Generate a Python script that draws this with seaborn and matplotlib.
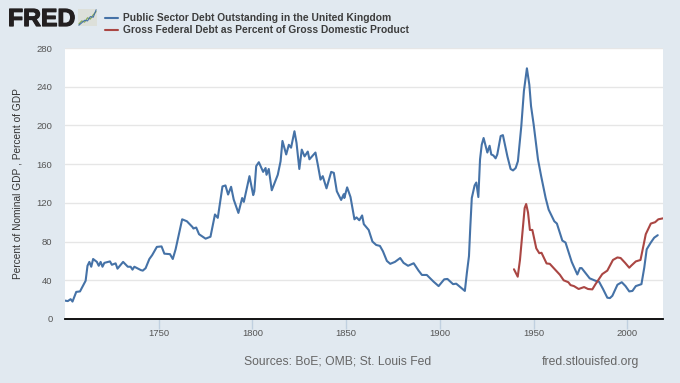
import pandas as pd
import seaborn as sns
import matplotlib.pyplot as plt
import matplotlib.patheffects as pe
from matplotlib.lines import Line2D

# values (year, percent of GDP)
uk_years = [1700, 1701.5, 1703, 1704, 1706, 1708, 1711, 1712, 1713, 1714, 1715, 1717, 1718, 1719, 1720, 1721,
            1724, 1725, 1727, 1728, 1731, 1733.5, 1735, 1736, 1737, 1740.5, 1741.5, 1743, 1745, 1746.5, 1749,
            1751.5, 1753, 1756, 1757.5, 1759, 1762.5, 1765, 1768, 1768.5, 1770, 1771.5, 1775, 1777.6, 1780,
            1781.5, 1784, 1785.6, 1787, 1788.6, 1790, 1792.5, 1794.5, 1795.4, 1798.4, 1800.4, 1801, 1802,
            1803.4, 1805.7, 1807, 1807.5, 1808.7, 1810.3, 1813.5, 1815, 1816, 1818, 1819.4, 1820.6, 1822.4,
            1823.5, 1825, 1826.3, 1827.8, 1829.5, 1830.4, 1833.6, 1835, 1836.3, 1837.5, 1839.5, 1842, 1843.4,
            1845, 1847.3, 1848.7, 1849, 1850.5, 1852.3, 1854.4, 1855.5, 1857, 1858.5, 1859.4, 1862, 1864, 1866,
            1868, 1869.6, 1871.7, 1873.5, 1876, 1878.8, 1880.6, 1883, 1886, 1888.6, 1890.4, 1893, 1896.6,
            1899.3, 1902.3, 1904, 1907, 1908.7, 1913.3, 1914.4, 1915.5, 1916.2, 1917, 1918.5, 1919.4, 1920.5,
            1921.4, 1922.3, 1923.3, 1925.3, 1926.5, 1927.4, 1928.5, 1929.7, 1930.6, 1932.4, 1933.6, 1936,
            1937.7, 1939, 1940.4, 1941.6, 1943.4, 1944.8, 1946.4, 1947.7, 1948.6, 1950, 1952.3, 1954, 1956.4,
            1958, 1961, 1962.4, 1965.3, 1967, 1970.3, 1973.3, 1974.7, 1975.6, 1979.9, 1983, 1984.9, 1987,
            1989.3, 1990.7, 1992, 1994.7, 1997, 1999, 2001, 2002.7, 2004.5, 2007.5, 2009, 2010.3, 2012.5,
            2014.3, 2016.2]
uk_debt = [19, 18.5, 20.5, 18, 28, 28.5, 39.5, 55, 59, 54, 62, 59, 55, 59, 54, 58,
           59.5, 56, 57.5, 52, 59, 54, 54, 51, 54, 50.5, 50, 52.5, 62, 66, 74.5,
           75, 67.5, 67, 62, 72, 103, 101, 95, 93.5, 94.5, 87.6, 83, 85, 108,
           104.5, 137, 138, 128.6, 136.6, 123.4, 109.6, 125, 121, 147.6, 128, 132, 158,
           162, 152, 156, 149, 155, 133, 149, 163, 184, 170, 180, 177, 194,
           182, 155, 175, 168, 173, 165, 172, 158, 144, 147.6, 135, 152, 151,
           132, 123, 129, 125, 136, 126, 103, 105, 102, 107, 98, 92, 80, 76.5,
           75.5, 70, 60, 57, 59, 63, 58, 55, 57.6, 50, 45.5, 45.5, 38.6,
           34, 41, 41.4, 36, 36.5, 29, 48, 65, 95, 125, 138, 141, 126,
           165, 180, 187, 172, 179, 170, 169, 166, 170, 189, 190, 168,
           155, 153.5, 156, 163, 199, 235.5, 259, 242, 220, 201, 165, 147.6, 125,
           113, 101, 98.6, 81, 79, 59, 46, 52.6, 52.6, 42, 39.5, 38.5, 31,
           22, 21.6, 24, 35.4, 38, 34, 28.5, 29, 34, 36, 53, 72, 79,
           84, 86.6]

us_years = [1939.5, 1941.5, 1942.7, 1945.2, 1946, 1947, 1948, 1949.3, 1951.4, 1953, 1954.2, 1956.9, 1958.6,
            1961.7, 1964, 1966, 1968.5, 1969.7, 1971.5, 1974, 1976.9, 1979, 1981.3, 1983, 1986.6, 1989.3,
            1992.3, 1994.7, 1996.4, 1998.8, 2001, 2002, 2004.5, 2007, 2008.7, 2009.8, 2012.5, 2014.8, 2016.5,
            2019]
us_debt = [51.4, 43.7, 61, 114.6, 118.8, 110, 92, 92, 73, 68, 68.4, 57.4, 57,
           50.5, 45.7, 40, 38, 35, 34, 31, 33, 31, 30.6, 36, 46.4, 50,
           61, 63.6, 63, 58, 53, 55, 59.5, 61, 77, 87.6, 98.6, 100, 103,
           104]

uk_label = "Public Sector Debt Outstanding in the United Kingdom"
us_label = "Gross Federal Debt as Percent of Gross Domestic Product"
y_ticks = [0, 40, 80, 120, 160, 200, 240, 280]
x_ticks = [1750, 1800, 1850, 1900, 1950, 2000]

# small chart in the logo
logo_x = [0, 1, 2, 3, 4, 5, 6]
logo_green = [1, 2, 1.6, 3, 2.6, 4, 5]
logo_blue = [0.6, 1.4, 2.2, 2, 3.4, 3.2, 5.6]

bg = "#E1E9F0"
blue = "#4572A7"
red = "#AA4643"
label_col = "#555555"

sns.set_theme(style="white")
plt.rcParams['font.family'] = ['Liberation Sans', 'DejaVu Sans']

df = pd.concat([
    pd.DataFrame({"year": uk_years, "value": uk_debt, "series": uk_label}),
    pd.DataFrame({"year": us_years, "value": us_debt, "series": us_label}),
])

fig = plt.figure(figsize=(6.8, 3.83), dpi=100, facecolor=bg)
ax = fig.add_axes([65 / 680, 1 - 319 / 383, 598 / 680, 271 / 383])
sns.lineplot(data=df, x="year", y="value", hue="series", palette=[blue, red], errorbar=None,
             estimator=None, sort=False, linewidth=1.5, legend=False, ax=ax, zorder=3)

ax.set_xlim(1700, 2019)
ax.set_ylim(0, 280)
ax.set_xticks(x_ticks)
ax.set_yticks(y_ticks)
ax.set_facecolor("white")
ax.grid(axis="y", color="#E6E6E6", linewidth=1)
ax.set_axisbelow(True)
ax.set_xlabel("")
ax.set_ylabel("Percent of Nominal GDP , Percent of GDP", fontsize=7.3, color="#333333")
ax.yaxis.set_label_coords(-42 / 598, 0.5)
ax.tick_params(axis="x", length=7, width=1, color="#C0D0E0", labelsize=6.8, labelcolor=label_col, pad=0.5, bottom=True)
ax.tick_params(axis="y", length=0, labelsize=6.8, labelcolor=label_col, pad=9)
for side in ["top", "right", "left"]:
    ax.spines[side].set_visible(False)
ax.spines["bottom"].set_color("black")
ax.spines["bottom"].set_linewidth(1.3)
ax.spines["bottom"].set_zorder(5)

# header
fig.text(8 / 680, 1 - 26 / 383, "FRED", fontsize=17.8, fontweight="bold", color="#231F20",
         path_effects=[pe.withStroke(linewidth=0.9, foreground="#231F20")])
icon = fig.add_axes([78 / 680, 1 - 26 / 383, 19 / 680, 17 / 383], facecolor="#D5D8D3")
sns.lineplot(x=logo_x, y=logo_green, color="#7FA650", linewidth=0.8, ax=icon)
sns.lineplot(x=logo_x, y=logo_blue, color="#4572A7", linewidth=0.8, ax=icon)
icon.set_axis_off()
icon.add_patch(plt.Rectangle((0, 0), 1, 1, transform=icon.transAxes, color="#DDE0DA", zorder=0))

handles = [Line2D([], [], color=blue, linewidth=1.5), Line2D([], [], color=red, linewidth=1.5)]
fig.legend(handles, [uk_label, us_label], loc="upper left", bbox_to_anchor=(101 / 680, 1 - 9 / 383),
           frameon=False, handlelength=1.3, handletextpad=0.42, labelspacing=0.22, borderpad=0.4,
           borderaxespad=0, prop={"size": 7.38, "weight": "bold"}, labelcolor="#3d3d3d")

# footer
fig.text(244 / 680, 1 - 365 / 383, "Sources: BoE; OMB; St. Louis Fed", fontsize=8.75, color="#666666")
fig.text(542 / 680, 1 - 365 / 383, "fred.stlouisfed.org", fontsize=8.75, color="#666666")

fig.savefig("out.png", dpi=100, facecolor=bg)
